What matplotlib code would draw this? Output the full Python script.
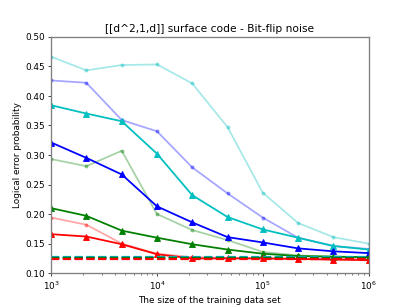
import numpy as np
import matplotlib.pyplot as plt

# training set sizes
n_train = [1e3, 2.15e3, 4.64e3, 1e4, 2.15e4, 4.64e4, 1e5, 2.15e5, 4.64e5, 1e6]

# light curves (small dots)
cyan_a = [0.466, 0.443, 0.452, 0.453, 0.421, 0.347, 0.236, 0.185, 0.161, 0.150]
blue_a = [0.426, 0.422, 0.359, 0.340, 0.279, 0.235, 0.194, 0.160, 0.146, 0.141]
green_a = [0.293, 0.281, 0.307, 0.200, 0.173, 0.156, 0.136, 0.130, 0.128, 0.127]
red_a = [0.194, 0.182, 0.150, 0.133, 0.127, 0.126, 0.125, 0.125, 0.124, 0.124]

# solid curves (triangles)
cyan_b = [0.384, 0.370, 0.357, 0.302, 0.232, 0.195, 0.174, 0.160, 0.146, 0.140]
blue_b = [0.321, 0.295, 0.267, 0.213, 0.186, 0.161, 0.152, 0.142, 0.137, 0.134]
green_b = [0.210, 0.197, 0.172, 0.160, 0.149, 0.140, 0.133, 0.129, 0.128, 0.127]
red_b = [0.166, 0.162, 0.149, 0.132, 0.125, 0.125, 0.125, 0.124, 0.123, 0.122]

# baselines
base = {"g": 0.1255, "b": 0.1262, "c": 0.1272, "r": 0.1245}

fig = plt.figure(figsize=(6.4, 4.8), dpi=64)
ax = fig.add_subplot(111)

for col, y in [("c", cyan_a), ("b", blue_a), ("g", green_a), ("r", red_a)]:
    ax.plot(n_train, y, color=col, marker=".", alpha=0.35, lw=2, ms=7)

for col, y in [("c", cyan_b), ("b", blue_b), ("g", green_b), ("r", red_b)]:
    ax.plot(n_train, y, color=col, marker="^", lw=2, ms=7.5)

for col in ["c", "b", "g", "r"]:
    ax.axhline(base[col], color=col, ls="--", lw=2.5)

ax.set_xscale("log")
ax.set_xlim(1e3, 1e6)
ax.set_ylim(0.10, 0.50)
ax.set_title("[[d^2,1,d]] surface code - Bit-flip noise")
ax.set_xlabel("The size of the training data set")
ax.set_ylabel("Logical error probability")
for s in ax.spines.values():
    s.set_color("gray")
    s.set_linewidth(1.5)

fig.savefig("out.png", dpi=64)
